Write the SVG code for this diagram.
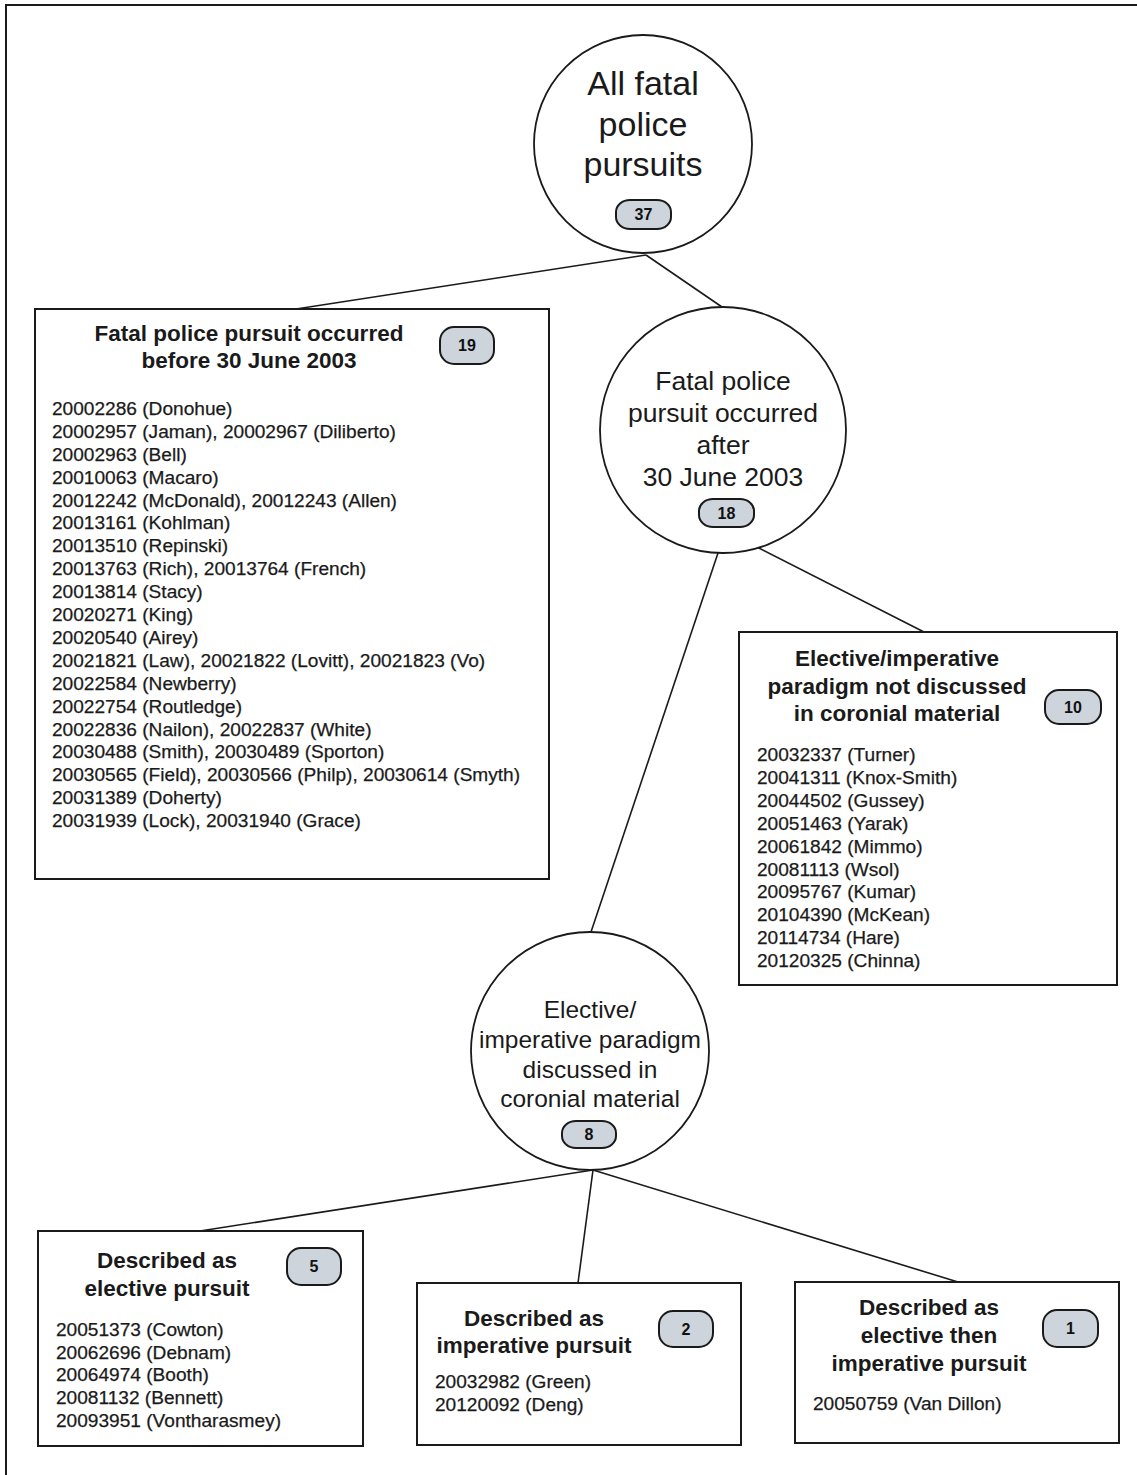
<svg xmlns="http://www.w3.org/2000/svg" width="1137" height="1475" viewBox="0 0 1137 1475">
<style>
  .bg{fill:#ffffff}
  .frame{fill:none;stroke:#1a1a1a;stroke-width:2}
  .box{fill:#ffffff;stroke:#1a1a1a;stroke-width:2}
  .circ{fill:#ffffff;stroke:#1a1a1a;stroke-width:1.8}
  .conn{fill:none;stroke:#1a1a1a;stroke-width:1.6}
  .badge{fill:#cdd4dc;stroke:#1a1a1a;stroke-width:2}
  .bt{font-family:"Liberation Sans",Arial,sans-serif;font-weight:bold;font-size:16px;fill:#111;text-anchor:middle}
  .title{font-family:"Liberation Sans",Arial,sans-serif;font-weight:bold;font-size:22.5px;fill:#1a1a1a;text-anchor:middle}
  .list{font-family:"Liberation Sans",Arial,sans-serif;font-size:19.1px;fill:#1a1a1a;stroke:#1a1a1a;stroke-width:0.25}
  .c1{font-family:"Liberation Sans",Arial,sans-serif;font-size:34px;fill:#1a1a1a;text-anchor:middle}
  .c2{font-family:"Liberation Sans",Arial,sans-serif;font-size:26.5px;fill:#1a1a1a;text-anchor:middle}
  .c3{font-family:"Liberation Sans",Arial,sans-serif;font-size:24.5px;fill:#1a1a1a;text-anchor:middle}
</style>
<rect class="bg" x="0" y="0" width="1137" height="1475"/>
<path class="frame" d="M6,1475 V5 H1137"/>

<g id="connectors">
  <line class="conn" x1="646" y1="255" x2="296" y2="309"/>
  <line class="conn" x1="646" y1="255" x2="722" y2="307"/>
  <line class="conn" x1="718" y1="553" x2="591" y2="932"/>
  <line class="conn" x1="745" y1="541" x2="924" y2="632"/>
  <line class="conn" x1="593" y1="1170" x2="200" y2="1231"/>
  <line class="conn" x1="593" y1="1170" x2="578" y2="1283"/>
  <line class="conn" x1="593" y1="1170" x2="958" y2="1282"/>
</g>

<g id="node-all">
  <circle class="circ" cx="643" cy="144" r="109"/>
  <text class="c1" x="643" y="95">All fatal</text>
  <text class="c1" x="643" y="136">police</text>
  <text class="c1" x="643" y="176">pursuits</text>
  <rect class="badge" x="616" y="200" width="55" height="29" rx="14" ry="12"/>
  <text class="bt" x="643.5" y="220">37</text>
</g>

<g id="node-before">
  <rect class="box" x="35" y="309" width="514" height="570"/>
  <text class="title" x="249" y="341">Fatal police pursuit occurred</text>
  <text class="title" x="249" y="368">before 30 June 2003</text>
  <rect class="badge" x="440" y="327" width="54" height="37" rx="14" ry="14"/>
  <text class="bt" x="467" y="351">19</text>
  <text class="list" x="52" y="415">20002286 (Donohue)</text>
  <text class="list" x="52" y="438">20002957 (Jaman), 20002967 (Diliberto)</text>
  <text class="list" x="52" y="461">20002963 (Bell)</text>
  <text class="list" x="52" y="484">20010063 (Macaro)</text>
  <text class="list" x="52" y="507">20012242 (McDonald), 20012243 (Allen)</text>
  <text class="list" x="52" y="529">20013161 (Kohlman)</text>
  <text class="list" x="52" y="552">20013510 (Repinski)</text>
  <text class="list" x="52" y="575">20013763 (Rich), 20013764 (French)</text>
  <text class="list" x="52" y="598">20013814 (Stacy)</text>
  <text class="list" x="52" y="621">20020271 (King)</text>
  <text class="list" x="52" y="644">20020540 (Airey)</text>
  <text class="list" x="52" y="667">20021821 (Law), 20021822 (Lovitt), 20021823 (Vo)</text>
  <text class="list" x="52" y="690">20022584 (Newberry)</text>
  <text class="list" x="52" y="713">20022754 (Routledge)</text>
  <text class="list" x="52" y="736">20022836 (Nailon), 20022837 (White)</text>
  <text class="list" x="52" y="758">20030488 (Smith), 20030489 (Sporton)</text>
  <text class="list" x="52" y="781">20030565 (Field), 20030566 (Philp), 20030614 (Smyth)</text>
  <text class="list" x="52" y="804">20031389 (Doherty)</text>
  <text class="list" x="52" y="827">20031939 (Lock), 20031940 (Grace)</text>
</g>

<g id="node-after">
  <circle class="circ" cx="723" cy="430" r="123"/>
  <text class="c2" x="723" y="390">Fatal police</text>
  <text class="c2" x="723" y="422">pursuit occurred</text>
  <text class="c2" x="723" y="454">after</text>
  <text class="c2" x="723" y="486">30 June 2003</text>
  <rect class="badge" x="699" y="499" width="55" height="28" rx="14" ry="12"/>
  <text class="bt" x="726.5" y="519">18</text>
</g>

<g id="node-not-discussed">
  <rect class="box" x="739" y="632" width="378" height="353"/>
  <text class="title" x="897" y="666">Elective/imperative</text>
  <text class="title" x="897" y="694">paradigm not discussed</text>
  <text class="title" x="897" y="721">in coronial material</text>
  <rect class="badge" x="1045" y="690" width="56" height="34" rx="14" ry="14"/>
  <text class="bt" x="1073" y="713">10</text>
  <text class="list" x="757" y="761">20032337 (Turner)</text>
  <text class="list" x="757" y="784">20041311 (Knox-Smith)</text>
  <text class="list" x="757" y="807">20044502 (Gussey)</text>
  <text class="list" x="757" y="830">20051463 (Yarak)</text>
  <text class="list" x="757" y="853">20061842 (Mimmo)</text>
  <text class="list" x="757" y="876">20081113 (Wsol)</text>
  <text class="list" x="757" y="898">20095767 (Kumar)</text>
  <text class="list" x="757" y="921">20104390 (McKean)</text>
  <text class="list" x="757" y="944">20114734 (Hare)</text>
  <text class="list" x="757" y="967">20120325 (Chinna)</text>
</g>

<g id="node-discussed">
  <circle class="circ" cx="590" cy="1051" r="119"/>
  <text class="c3" x="590" y="1018">Elective/</text>
  <text class="c3" x="590" y="1048">imperative paradigm</text>
  <text class="c3" x="590" y="1078">discussed in</text>
  <text class="c3" x="590" y="1107">coronial material</text>
  <rect class="badge" x="562" y="1121" width="54" height="27" rx="14" ry="12"/>
  <text class="bt" x="589" y="1140">8</text>
</g>

<g id="node-elective">
  <rect class="box" x="38" y="1231" width="325" height="215"/>
  <text class="title" x="167" y="1268">Described as</text>
  <text class="title" x="167" y="1296">elective pursuit</text>
  <rect class="badge" x="287" y="1248" width="54" height="37" rx="14" ry="14"/>
  <text class="bt" x="314" y="1272">5</text>
  <text class="list" x="56" y="1336">20051373 (Cowton)</text>
  <text class="list" x="56" y="1359">20062696 (Debnam)</text>
  <text class="list" x="56" y="1381">20064974 (Booth)</text>
  <text class="list" x="56" y="1404">20081132 (Bennett)</text>
  <text class="list" x="56" y="1427">20093951 (Vontharasmey)</text>
</g>

<g id="node-imperative">
  <rect class="box" x="417" y="1283" width="324" height="162"/>
  <text class="title" x="534" y="1326">Described as</text>
  <text class="title" x="534" y="1353">imperative pursuit</text>
  <rect class="badge" x="659" y="1311" width="54" height="36" rx="14" ry="14"/>
  <text class="bt" x="686" y="1335">2</text>
  <text class="list" x="435" y="1388">20032982 (Green)</text>
  <text class="list" x="435" y="1411">20120092 (Deng)</text>
</g>

<g id="node-elective-then-imperative">
  <rect class="box" x="795" y="1282" width="324" height="161"/>
  <text class="title" x="929" y="1315">Described as</text>
  <text class="title" x="929" y="1343">elective then</text>
  <text class="title" x="929" y="1371">imperative pursuit</text>
  <rect class="badge" x="1043" y="1310" width="55" height="37" rx="14" ry="14"/>
  <text class="bt" x="1070.5" y="1334">1</text>
  <text class="list" x="813" y="1410">20050759 (Van Dillon)</text>
</g>
</svg>
